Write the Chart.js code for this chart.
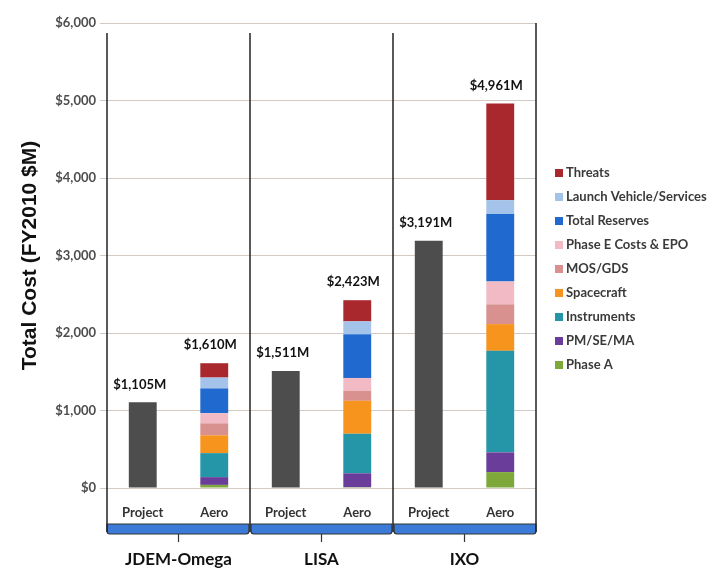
<!DOCTYPE html>
<html>
<head>
<meta charset="utf-8">
<script src="https://cdn.jsdelivr.net/npm/chart.js@4.4.0/dist/chart.umd.min.js"></script>
<style>
  html, body { margin: 0; padding: 0; background: #fff; }
  #wrap { width: 716px; height: 570px; position: relative; }
</style>
</head>
<body>
<div id="wrap"><canvas id="costChart"></canvas></div>
<script>
// data
const missions = ['JDEM-Omega', 'LISA', 'IXO'];
const subLabels = ['Project', 'Aero', 'Project', 'Aero', 'Project', 'Aero'];
const projectTotals = [1105, 1511, 3191];
const aeroTotals = [1610, 2423, 4961];

// aero pieces, bottom to top
const phaseA      = [40, 10, 205];
const pmSeMa      = [100, 180, 255];
const instruments = [310, 510, 1310];
const spacecraft  = [230, 425, 345];
const mosGds      = [155, 130, 255];
const phaseE      = [130, 165, 295];
const reserves    = [320, 565, 870];
const launch      = [140, 165, 180];
const threats     = [185, 273, 1246];

const pieceNames  = ['Phase A', 'PM/SE/MA', 'Instruments', 'Spacecraft', 'MOS/GDS', 'Phase E Costs & EPO', 'Total Reserves', 'Launch Vehicle/Services', 'Threats'];
const pieceValues = [phaseA, pmSeMa, instruments, spacecraft, mosGds, phaseE, reserves, launch, threats];
const pieceColors = ['#7ea83a', '#6a3d9a', '#2596a7', '#f7941e', '#d9918f', '#f2bac4', '#1f69cf', '#a3c3ea', '#a8282d'];

const yTicks = [0, 1000, 2000, 3000, 4000, 5000, 6000];

const FONT = 'Lato, "Open Sans", sans-serif';

// put values into the Project / Aero slots
const toProject = vals => vals.flatMap(v => [v, null]);
const toAero = vals => vals.flatMap(v => [null, v]);
const money = v => '$' + v.toLocaleString('en-US');

function buildDatasets() {
    let ds = [{ label: 'Project', data: toProject(projectTotals), backgroundColor: '#4d4d4d' }];
    pieceNames.forEach((name, i) => {
        ds.push({ label: name, data: toAero(pieceValues[i]), backgroundColor: pieceColors[i] });
    });
    return ds;
}

// extra drawing: totals, separators, bottom boxes, legend
const decorPlugin = {
    id: 'decor',
    afterDatasetsDraw(chart) {
        const { ctx, scales: { x, y } } = chart;
        ctx.save();
        ctx.font = 'bold 13px ' + FONT;
        ctx.fillStyle = '#111';
        ctx.textAlign = 'center';
        ctx.textBaseline = 'middle';
        missions.forEach((m, g) => {
            ctx.fillText(money(projectTotals[g]) + 'M', x.getPixelForValue(g * 2) - 3, y.getPixelForValue(projectTotals[g]) - 18);
            ctx.fillText(money(aeroTotals[g]) + 'M', x.getPixelForValue(g * 2 + 1) - 4, y.getPixelForValue(aeroTotals[g]) - 18);
        });
        ctx.restore();
    },
    afterDraw(chart) {
        const { ctx, chartArea: area, scales: { x } } = chart;
        const bounds = [area.left];
        for (let g = 0; g < missions.length - 1; g++) {
            bounds.push((x.getPixelForValue(g * 2 + 1) + x.getPixelForValue(g * 2 + 2)) / 2);
        }
        bounds.push(area.right);

        const blueTop = area.bottom + 36, blueBot = area.bottom + 46;
        ctx.save();
        // group boxes with blue strip
        missions.forEach((m, g) => {
            const x0 = bounds[g] + (g ? 1 : 0), x1 = bounds[g + 1] - (g < missions.length - 1 ? 1 : 0);
            ctx.fillStyle = '#3b7ad6';
            ctx.beginPath();
            ctx.moveTo(x0, blueTop);
            ctx.lineTo(x1, blueTop);
            ctx.lineTo(x1, blueBot - 3);
            ctx.quadraticCurveTo(x1, blueBot, x1 - 3, blueBot);
            ctx.lineTo(x0 + 3, blueBot);
            ctx.quadraticCurveTo(x0, blueBot, x0, blueBot - 3);
            ctx.closePath();
            ctx.fill();
            ctx.strokeStyle = '#333';
            ctx.lineWidth = 1.2;
            ctx.stroke();

            // tick + mission name
            const cx = (bounds[g] + bounds[g + 1]) / 2;
            ctx.beginPath();
            ctx.moveTo(cx, blueBot);
            ctx.lineTo(cx, blueBot + 8);
            ctx.stroke();
            ctx.font = 'bold 17px ' + FONT;
            ctx.fillStyle = '#111';
            ctx.textAlign = 'center';
            ctx.textBaseline = 'alphabetic';
            ctx.fillText(m, cx, blueBot + 31);
        });

        // vertical separators
        ctx.strokeStyle = '#222';
        ctx.lineWidth = 1.5;
        bounds.forEach((bx, i) => {
            ctx.beginPath();
            ctx.moveTo(bx, i === bounds.length - 1 ? area.top : area.top + 10);
            ctx.lineTo(bx, blueBot - 2);
            ctx.stroke();
        });

        // legend, top item first
        ctx.font = 'bold 13px ' + FONT;
        ctx.textAlign = 'left';
        ctx.textBaseline = 'middle';
        for (let k = 0; k < pieceNames.length; k++) {
            const i = pieceNames.length - 1 - k;
            const ly = 173 + k * 24;
            ctx.fillStyle = pieceColors[i];
            ctx.fillRect(555, ly - 4, 8, 8);
            ctx.fillStyle = '#3a3a3a';
            ctx.fillText(pieceNames[i], 566, ly);
        }
        ctx.restore();
    }
};

function initChart() {
    new Chart(document.getElementById('costChart'), {
        type: 'bar',
        data: { labels: subLabels, datasets: buildDatasets() },
        options: {
            responsive: true,
            maintainAspectRatio: false,
            animation: false,
            layout: { padding: { left: 0, right: 180, top: 23, bottom: 0 } },
            datasets: { bar: { barPercentage: 0.39, categoryPercentage: 1 } },
            plugins: { legend: { display: false }, tooltip: { enabled: false } },
            scales: {
                x: {
                    stacked: true,
                    grid: { display: false },
                    border: { display: false },
                    ticks: { font: { family: FONT, size: 13, weight: 'bold' }, color: '#333', padding: 9 },
                    afterFit: s => { s.height = 82; }
                },
                y: {
                    stacked: true,
                    min: 0,
                    max: 6000,
                    afterBuildTicks: s => { s.ticks = yTicks.map(v => ({ value: v })); },
                    ticks: { callback: v => money(v), font: { family: FONT, size: 13, weight: 'bold' }, color: '#4d4d4d', padding: 4 },
                    grid: { color: '#d2cac2', tickLength: 7 },
                    border: { display: false },
                    title: {
                        display: true,
                        text: 'Total Cost (FY2010 $M)',
                        font: { family: '"Liberation Sans", Arial, sans-serif', size: 21, weight: 'bold' },
                        color: '#111',
                        padding: { top: 18, bottom: 0 }
                    },
                    afterFit: s => { s.width = 107; }
                }
            }
        },
        plugins: [decorPlugin]
    });
}

window.onload = initChart;
</script>
</body>
</html>
